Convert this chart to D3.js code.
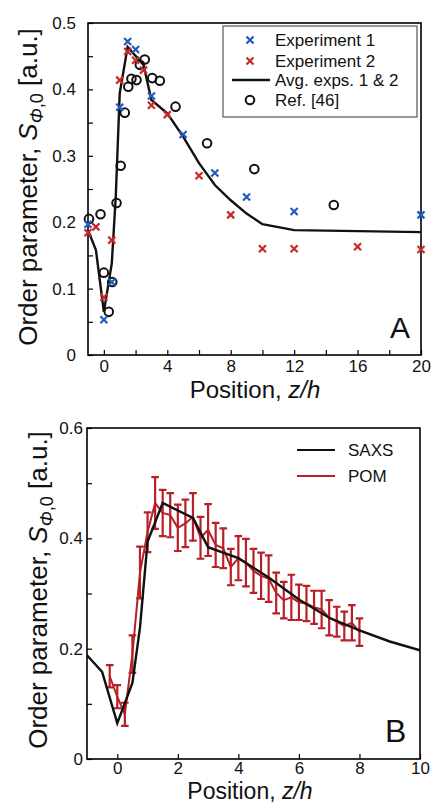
<!DOCTYPE html>
<html>
<head>
<meta charset="utf-8">
<script src="https://cdn.jsdelivr.net/npm/d3@7"></script>
<style>
  body { margin: 0; background: #fff; }
  svg { display: block; font-family: "Liberation Sans", Arial, sans-serif; }
  .tick line { stroke: #000; stroke-width: 1.2; }
  .tick text { fill: #111; }
</style>
</head>
<body>
<svg id="chart" width="433" height="805"></svg>
<script>
// ---- Panel A data (z/h, order parameter) ----
const exp1Z = [-1, 0, 0.5, 1, 1.5, 2, 3, 5, 7, 9, 12, 20];
const exp1S = [0.197, 0.053, 0.110, 0.373, 0.472, 0.460, 0.390, 0.332, 0.274, 0.238, 0.216, 0.211];

const exp2Z = [-1, -0.5, 0, 0.5, 1, 1.5, 2, 2.5, 3, 4, 6, 8, 10, 12, 16, 20];
const exp2S = [0.184, 0.193, 0.087, 0.173, 0.414, 0.457, 0.444, 0.429, 0.376, 0.362, 0.270, 0.211, 0.160, 0.160, 0.163, 0.159];

const avgZ = [-1, -0.5, 0, 0.5, 0.75, 1, 1.5, 2.5, 3, 4, 5, 6, 7, 8, 9, 10, 12, 20];
const avgS = [0.188, 0.158, 0.065, 0.138, 0.238, 0.394, 0.464, 0.437, 0.384, 0.364, 0.329, 0.289, 0.256, 0.233, 0.213, 0.197, 0.188, 0.185];

const refZ = [-0.94, -0.21, 0, 0.31, 0.53, 0.8, 1.06, 1.32, 1.54, 1.74, 2.06, 2.27, 2.58, 3.05, 3.53, 4.52, 6.51, 9.49, 14.5];
const refS = [0.205, 0.212, 0.124, 0.065, 0.110, 0.229, 0.285, 0.365, 0.404, 0.416, 0.414, 0.437, 0.445, 0.417, 0.413, 0.374, 0.319, 0.280, 0.226];

const legendA = ["Experiment 1", "Experiment 2", "Avg. exps. 1 & 2", "Ref. [46]"];

// ---- Panel B data ----
// SAXS curve is the averaged experiment curve from panel A
const pomZ = [-0.25, 0, 0.25, 0.5, 0.75, 1, 1.25, 1.5, 1.75, 2, 2.25, 2.5, 2.75, 3, 3.25, 3.5, 3.75, 4,
              4.25, 4.5, 4.75, 5, 5.25, 5.5, 5.75, 6, 6.25, 6.5, 6.75, 7, 7.25, 7.5, 7.75, 8];
const pomS = [0.150, 0.113, 0.081, 0.190, 0.338, 0.411, 0.464, 0.446, 0.442, 0.419, 0.427, 0.439, 0.401, 0.415,
              0.388, 0.382, 0.348, 0.364, 0.356, 0.341, 0.332, 0.327, 0.301, 0.288, 0.293, 0.284, 0.282, 0.275,
              0.271, 0.256, 0.249, 0.241, 0.247, 0.230];
const pomErr = [0.020, 0.021, 0.021, 0.034, 0.047, 0.036, 0.047, 0.042, 0.040, 0.042, 0.043, 0.043, 0.038, 0.047,
                0.040, 0.036, 0.033, 0.040, 0.043, 0.040, 0.042, 0.042, 0.037, 0.033, 0.041, 0.032, 0.032, 0.030,
                0.034, 0.032, 0.027, 0.026, 0.032, 0.025];

const legendB = ["SAXS", "POM"];

const BLUE = "#1f5cbf";
const RED = "#c62a2a";
const POMRED = "#b81f27";

const svg = d3.select("#chart");

function yTitle(g, x, y) {
  const t = g.append("text")
    .attr("transform", `translate(${x},${y}) rotate(-90)`)
    .attr("text-anchor", "middle")
    .attr("font-size", 26)
    .attr("fill", "#111");
  t.append("tspan").text("Order parameter, ");
  t.append("tspan").attr("font-style", "italic").text("S");
  t.append("tspan").attr("font-style", "italic").attr("font-size", 18).attr("dy", 6).text("Φ");
  t.append("tspan").attr("font-size", 18).text(",0");
  t.append("tspan").attr("dy", -6).text(" [a.u.]");
}

function xTitle(g, x, y, size) {
  const t = g.append("text")
    .attr("x", x).attr("y", y)
    .attr("text-anchor", "middle")
    .attr("font-size", size)
    .attr("fill", "#111");
  t.append("tspan").text("Position, ");
  t.append("tspan").attr("font-style", "italic").text("z/h");
}

function cross(sel, color) {
  sel.append("path")
    .attr("d", "M-3.5,-3.5L3.5,3.5M-3.5,3.5L3.5,-3.5")
    .attr("stroke", color)
    .attr("stroke-width", 2.2)
    .attr("fill", "none");
}

// ================= Panel A =================
{
  const left = 88, right = 421, top = 23, bottom = 355;
  const x = d3.scaleLinear().domain([-1, 20]).range([left, right]);
  const y = d3.scaleLinear().domain([0, 0.5]).range([bottom, top]);
  const g = svg.append("g");

  const xAxis = d3.axisBottom(x)
    .tickValues(d3.range(0, 21, 2))
    .tickSizeInner(-5).tickSizeOuter(0).tickPadding(5)
    .tickFormat(d => d % 4 === 0 ? d : "");
  g.append("g").attr("transform", `translate(0,${bottom})`).call(xAxis)
    .call(a => a.select(".domain").remove())
    .selectAll("text").attr("font-size", 17);

  const yAxis = d3.axisLeft(y)
    .tickValues(d3.range(0, 0.5001, 0.05))
    .tickSizeInner(-5).tickSizeOuter(0).tickPadding(12)
    .tickFormat(d => Math.round(d * 100) % 10 === 0 ? (d === 0 ? "0" : d3.format(".1f")(d)) : "");
  g.append("g").attr("transform", `translate(${left},0)`).call(yAxis)
    .call(a => a.select(".domain").remove())
    .selectAll("text").attr("font-size", 17);

  g.append("rect").attr("x", left).attr("y", top)
    .attr("width", right - left).attr("height", bottom - top)
    .attr("fill", "none").attr("stroke", "#000").attr("stroke-width", 1.6);

  const avg = avgZ.map((z, i) => [z, avgS[i]]);
  g.append("path").datum(avg)
    .attr("fill", "none").attr("stroke", "#111").attr("stroke-width", 2.4)
    .attr("d", d3.line().x(d => x(d[0])).y(d => y(d[1])));

  g.append("g").selectAll("circle").data(refZ.map((z, i) => [z, refS[i]])).join("circle")
    .attr("cx", d => x(d[0])).attr("cy", d => y(d[1])).attr("r", 4.3)
    .attr("fill", "none").attr("stroke", "#111").attr("stroke-width", 2);

  g.append("g").selectAll("g").data(exp2Z.map((z, i) => [z, exp2S[i]])).join("g")
    .attr("transform", d => `translate(${x(d[0])},${y(d[1])})`)
    .call(s => cross(s, RED));

  g.append("g").selectAll("g").data(exp1Z.map((z, i) => [z, exp1S[i]])).join("g")
    .attr("transform", d => `translate(${x(d[0])},${y(d[1])})`)
    .call(s => cross(s, BLUE));

  // legend
  const lg = g.append("g");
  lg.append("rect").attr("x", 223).attr("y", 26).attr("width", 194).attr("height", 91)
    .attr("fill", "#fff").attr("stroke", "#555").attr("stroke-width", 1.2);
  const rowY = [40, 61, 80, 100];
  legendA.forEach((label, i) => {
    const row = lg.append("g").attr("transform", `translate(0,${rowY[i]})`);
    if (i === 0) row.append("g").attr("transform", "translate(250,0)").call(s => cross(s, BLUE));
    if (i === 1) row.append("g").attr("transform", "translate(250,0)").call(s => cross(s, RED));
    if (i === 2) row.append("line").attr("x1", 232).attr("x2", 270)
      .attr("stroke", "#111").attr("stroke-width", 2.4);
    if (i === 3) row.append("circle").attr("cx", 250).attr("r", 4.3)
      .attr("fill", "none").attr("stroke", "#111").attr("stroke-width", 2);
    row.append("text").attr("x", 275).attr("dy", "0.35em")
      .attr("font-size", 17).attr("fill", "#111").text(label);
  });

  g.append("text").attr("x", 390).attr("y", 338).attr("font-size", 30).attr("fill", "#111").text("A");

  yTitle(g, 37, 187);
  xTitle(g, 255, 398, 24);
}

// ================= Panel B =================
{
  const left = 87, right = 420, top = 428, bottom = 759;
  const x = d3.scaleLinear().domain([-1, 10]).range([left, right]);
  const y = d3.scaleLinear().domain([0, 0.6]).range([bottom, top]);
  const g = svg.append("g");

  const xAxis = d3.axisBottom(x)
    .tickValues(d3.range(0, 11, 2))
    .tickSizeInner(-5).tickSizeOuter(0).tickPadding(3);
  g.append("g").attr("transform", `translate(0,${bottom})`).call(xAxis)
    .call(a => a.select(".domain").remove())
    .selectAll("text").attr("font-size", 17);

  const yAxis = d3.axisLeft(y)
    .tickValues(d3.range(0, 0.6001, 0.1))
    .tickSizeInner(-5).tickSizeOuter(0).tickPadding(4)
    .tickFormat(d => Math.round(d * 10) % 2 === 0 ? (d === 0 ? "0" : d3.format(".1f")(d)) : "");
  g.append("g").attr("transform", `translate(${left},0)`).call(yAxis)
    .call(a => a.select(".domain").remove())
    .selectAll("text").attr("font-size", 17);

  g.append("clipPath").attr("id", "clipB").append("rect")
    .attr("x", left).attr("y", top).attr("width", right - left).attr("height", bottom - top);

  const saxs = avgZ.map((z, i) => [z, avgS[i]]);
  const saxsLine = d3.line().x(d => x(d[0])).y(d => y(d[1]));

  const pom = pomZ.map((z, i) => ({ z, s: pomS[i], e: pomErr[i] }));
  g.append("path").datum(pom)
    .attr("fill", "none").attr("stroke", POMRED).attr("stroke-width", 2)
    .attr("d", d3.line().x(d => x(d.z)).y(d => y(d.s)));

  const eb = g.append("g").attr("stroke", POMRED).attr("stroke-width", 2.2).attr("fill", "none");
  eb.selectAll("path").data(pom).join("path")
    .attr("d", d => {
      const cx = x(d.z), y0 = y(d.s - d.e), y1 = y(d.s + d.e), w = 3.8;
      return `M${cx},${y0}V${y1}M${cx - w},${y0}H${cx + w}M${cx - w},${y1}H${cx + w}`;
    });

  // SAXS drawn on top so it reads over the error bars
  g.append("path").datum(saxs).attr("clip-path", "url(#clipB)")
    .attr("fill", "none").attr("stroke", "#111").attr("stroke-width", 2.4)
    .attr("d", saxsLine);

  g.append("rect").attr("x", left).attr("y", top)
    .attr("width", right - left).attr("height", bottom - top)
    .attr("fill", "none").attr("stroke", "#000").attr("stroke-width", 1.6);

  const rowY = [450, 476];
  const colors = ["#111", POMRED];
  legendB.forEach((label, i) => {
    g.append("line").attr("x1", 297).attr("x2", 335).attr("y1", rowY[i]).attr("y2", rowY[i])
      .attr("stroke", colors[i]).attr("stroke-width", 2);
    g.append("text").attr("x", 348).attr("y", rowY[i]).attr("dy", "0.35em")
      .attr("font-size", 17).attr("fill", "#111").text(label);
  });

  g.append("text").attr("x", 385).attr("y", 742).attr("font-size", 32).attr("fill", "#111").text("B");

  yTitle(g, 47, 590);
  xTitle(g, 250, 799, 23);
}
</script>
</body>
</html>
